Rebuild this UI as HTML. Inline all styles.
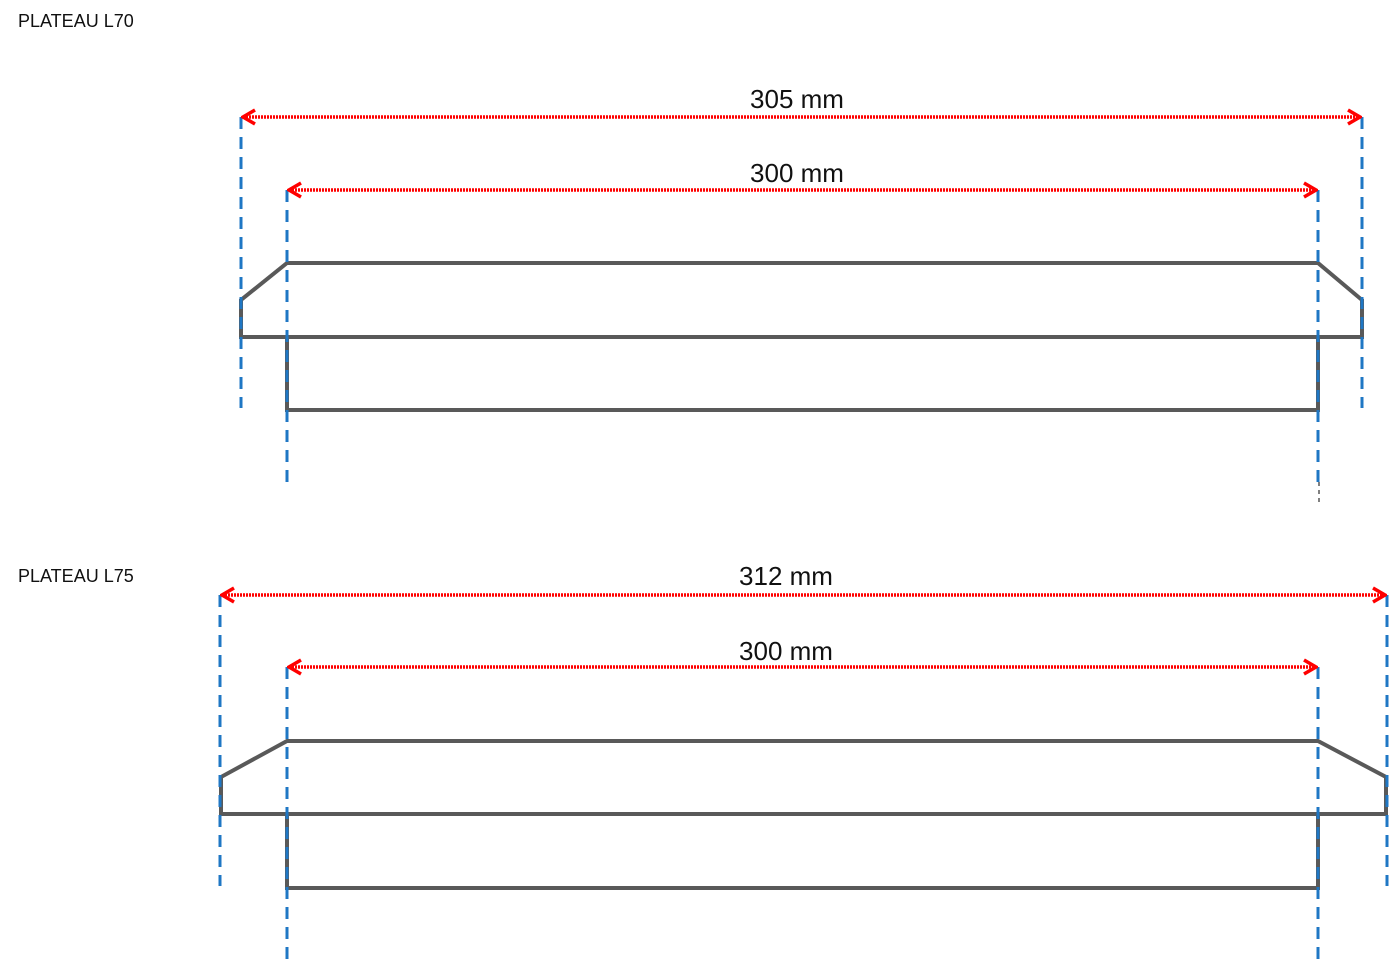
<!DOCTYPE html>
<html><head><meta charset="utf-8"><style>
html,body{margin:0;padding:0;background:#fff;}
svg{display:block;}
text{font-family:"Liberation Sans",sans-serif;}
</style></head><body>
<svg width="1400" height="965" viewBox="0 0 1400 965" xmlns="http://www.w3.org/2000/svg">
<defs>
<marker id="a" markerWidth="16" markerHeight="18" refX="14" refY="9" orient="auto-start-reverse" markerUnits="userSpaceOnUse">
<path d="M2,2 L14,9 L2,16" fill="none" stroke="#ff0000" stroke-width="3.5"/>
</marker>
</defs>
<text x="18" y="27" font-size="18" fill="#111">PLATEAU L70</text>
<text x="18" y="582" font-size="18" fill="#111">PLATEAU L75</text>

<g fill="none" stroke="#595959" stroke-width="4" stroke-linejoin="miter">
<path d="M287,263 L1318,263 L1362,300 L1362,337 L241,337 L241,300 Z"/>
<path d="M287,337 L287,410 L1318,410 L1318,337"/>
<path d="M287,741 L1318,741 L1386,777 L1386,814 L221,814 L221,777 Z"/>
<path d="M287,814 L287,888 L1318,888 L1318,814"/>
</g>

<g stroke="#1f77c4" stroke-width="3" stroke-dasharray="12 8">
<line x1="241" y1="117" x2="241" y2="408"/>
<line x1="287" y1="190" x2="287" y2="482"/>
<line x1="1318" y1="190" x2="1318" y2="482"/>
<line x1="1362" y1="117" x2="1362" y2="408"/>
<line x1="220" y1="595" x2="220" y2="886"/>
<line x1="287" y1="667" x2="287" y2="960"/>
<line x1="1318" y1="667" x2="1318" y2="960"/>
<line x1="1387" y1="595" x2="1387" y2="886"/>
</g>
<line x1="1319" y1="482" x2="1319" y2="503" stroke="#000" stroke-width="1" stroke-dasharray="4 4"/>

<g stroke="#ff0000" stroke-width="3.5" stroke-dasharray="2 1" marker-start="url(#a)" marker-end="url(#a)">
<line x1="243" y1="117" x2="1360" y2="117"/>
<line x1="289" y1="190" x2="1316" y2="190"/>
<line x1="222" y1="595" x2="1385" y2="595"/>
<line x1="289" y1="667" x2="1316" y2="667"/>
</g>

<g font-size="26" fill="#111" text-anchor="middle">
<text x="797" y="108">305 mm</text>
<text x="797" y="182">300 mm</text>
<text x="786" y="585">312 mm</text>
<text x="786" y="660">300 mm</text>
</g>
</svg>
</body></html>
